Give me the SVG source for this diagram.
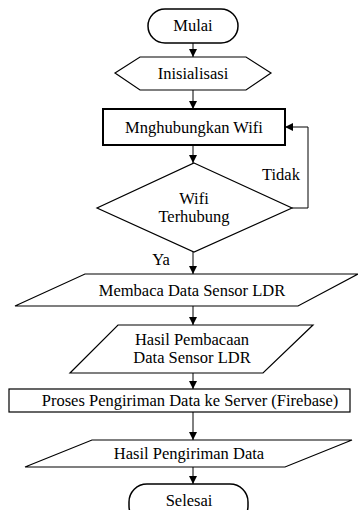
<svg xmlns="http://www.w3.org/2000/svg" width="358" height="510" viewBox="0 0 358 510">
<style>
.s{fill:#fff;stroke:#000;stroke-width:1.2}
.t{font-family:'Liberation Serif','Times New Roman',serif;font-size:16.5px;fill:#000;stroke:none;text-anchor:middle}
.c{fill:none;stroke:#000;stroke-width:1}
</style>
<defs>
<marker id="a" markerWidth="8" markerHeight="8" refX="8" refY="4" orient="auto" markerUnits="userSpaceOnUse">
<path d="M0,0 L8,4 L0,8 Z" fill="#000"/>
</marker>
</defs>
<rect width="358" height="510" fill="#fff"/>
<g id="connectors">
<line class="c" x1="193" y1="43" x2="193" y2="57" marker-end="url(#a)"/>
<line class="c" x1="193" y1="90" x2="193" y2="109" marker-end="url(#a)"/>
<line class="c" x1="193" y1="145" x2="193" y2="163" marker-end="url(#a)"/>
<polyline class="c" points="292,208 308,208 308,127 285,127" marker-end="url(#a)"/>
<line class="c" x1="193" y1="252" x2="193" y2="274" marker-end="url(#a)"/>
<line class="c" x1="193" y1="306" x2="193" y2="325" marker-end="url(#a)"/>
<line class="c" x1="193" y1="373" x2="193" y2="389" marker-end="url(#a)"/>
<line class="c" x1="193" y1="412" x2="193" y2="440" marker-end="url(#a)"/>
<line class="c" x1="193" y1="467" x2="193" y2="484" marker-end="url(#a)"/>
<text class="t" x="281" y="180">Tidak</text>
<text class="t" x="161" y="265">Ya</text>
</g>
<g id="mulai">
<rect class="s" x="148" y="9" width="90" height="34" rx="17" ry="17" style="stroke-width:1.5"/>
<text class="t" x="193" y="31">Mulai</text>
</g>
<g id="inisialisasi">
<polygon class="s" points="115,73 140,57 246,57 271,73 246,90 140,90"/>
<text class="t" x="193" y="79">Inisialisasi</text>
</g>
<g id="wifi">
<rect class="s" x="103" y="109" width="182" height="36" style="stroke-width:2"/>
<text class="t" x="194" y="133">Mnghubungkan Wifi</text>
</g>
<g id="cek">
<polygon class="s" points="194,163 292,208 194,252 97,208"/>
<text class="t" x="194" y="204">Wifi</text>
<text class="t" x="194" y="222">Terhubung</text>
</g>
<g id="membaca">
<polygon class="s" points="85,274 358,274 298,306 15,306"/>
<text class="t" x="192" y="296">Membaca Data Sensor LDR</text>
</g>
<g id="hasilbaca">
<polygon class="s" points="118,325 313,325 263,373 70,373"/>
<text class="t" x="192" y="345">Hasil Pembacaan</text>
<text class="t" x="192" y="363">Data Sensor LDR</text>
</g>
<g id="proses">
<rect class="s" x="9" y="389" width="341" height="23"/>
<text class="t" x="190" y="406">Proses Pengiriman Data ke Server (Firebase)</text>
</g>
<g id="hasilkirim">
<polygon class="s" points="92,440 352,440 285,467 25,467"/>
<text class="t" x="189" y="459">Hasil Pengiriman Data</text>
</g>
<g id="selesai">
<rect class="s" x="129" y="484" width="119" height="40" rx="18" ry="18" style="stroke-width:1.5"/>
<text class="t" x="189" y="506">Selesai</text>
</g>
</svg>
